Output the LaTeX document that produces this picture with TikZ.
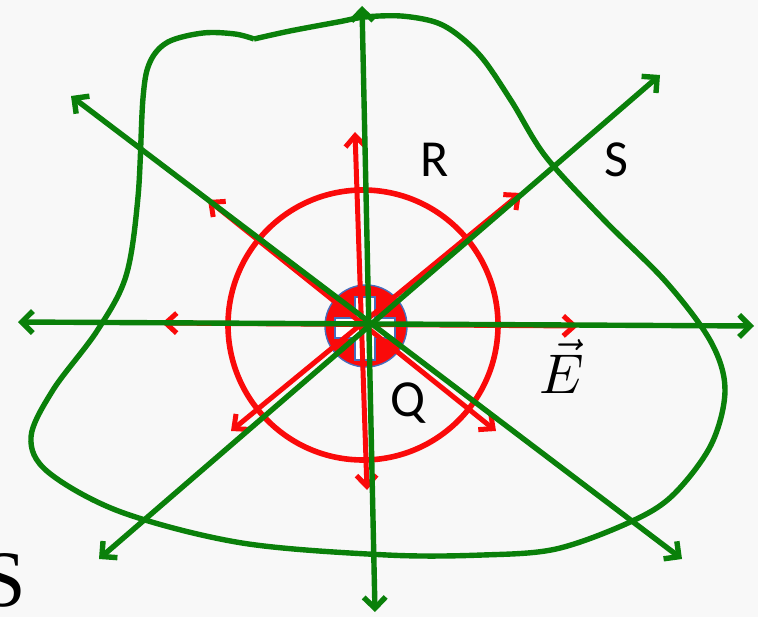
\documentclass[tikz,border=0pt]{standalone}
\usepackage{fontspec}
\newfontfamily\labelfont{Carlito}
\newfontfamily\bigserif{Liberation Serif}
\usetikzlibrary{arrows.meta}
\definecolor{bg}{RGB}{248,248,248}
\definecolor{fieldgreen}{RGB}{10,128,10}
\definecolor{fieldred}{RGB}{250,10,10}
\definecolor{chargeblue}{RGB}{70,110,190}
\tikzset{
  greenline/.style={draw=fieldgreen, line width=5.4pt, {Straight Barb[length=11pt,width=22pt]}-{Straight Barb[length=11pt,width=22pt]}},
  redline/.style={draw=fieldred, line width=5pt, {Straight Barb[length=11pt,width=20pt]}-{Straight Barb[length=11pt,width=20pt]}},
  lbl/.style={font=\labelfont\fontsize{52}{52}\selectfont, inner sep=0pt, anchor=base}
}
\begin{document}
\begin{tikzpicture}[x=1pt,y=-1pt]
\fill[bg] (0,0) rectangle (758,617);
\useasboundingbox (0,0) rectangle (758,617);

% Gaussian sphere R
\node[draw=fieldred, line width=5.6pt, circle, minimum size=270pt, inner sep=0pt] (sphere) at (363,325) {};

% charge Q
\node[draw=chargeblue, line width=1.4pt, fill=fieldred, circle, minimum size=82pt, inner sep=0pt] (charge) at (366,326) {};
\draw[chargeblue, line width=1.2pt, fill=white]
  (355,297) -- (375,297) -- (375,318) -- (395,318) -- (395,338) -- (375,338) -- (375,360)
  -- (355,360) -- (355,338) -- (335,338) -- (335,318) -- (355,318) -- cycle;

% red field arrows
\coordinate (rU) at (355,132);
\coordinate (rD) at (367,490);
\coordinate (rL) at (162,323);
\coordinate (rR) at (578,326);
\coordinate (rUL) at (208,200);
\coordinate (rDR) at (496,431);
\coordinate (rUR) at (521,193);
\coordinate (rDL) at (231,431);
\draw[redline] (rU) -- (rD);
\draw[redline] (rL) -- (rR);
\draw[redline] (rUL) -- (rDR);
\draw[redline] (rUR) -- (rDL);

% green field lines
\coordinate (gU) at (362,6);
\coordinate (gD) at (375,612);
\coordinate (gL) at (18,322);
\coordinate (gR) at (754,326);
\coordinate (gUL) at (71,96);
\coordinate (gDR) at (682,559);
\coordinate (gUR) at (660,75);
\coordinate (gDL) at (99,559);
\draw[greenline] (gU) -- (gD);
\draw[greenline] (gL) -- (gR);
\draw[greenline] (gUL) -- (gDR);
\draw[greenline] (gUR) -- (gDL);

% Gaussian surface S
\draw[fieldgreen, line width=5.4pt, line join=round] plot[smooth, tension=0.55] coordinates {
 (254,39) (290,31) (338,22) (365,17) (401,16) (435,22) (458,35) (483,59)
 (512,102) (546,157) (604,220) (667,283) (711,342) (725,390) (711,445)
 (672,496) (628,523) (556,549) (483,555) (387,555) (242,543) (121,512)
 (48,472) (31,437) (53,390) (97,331) (126,276) (138,197) (143,98)
 (150,62) (168,42) (203,33) (235,34) (254,39)};

% labels
\node[lbl] (labR) at (435,177) {R};
\node[lbl] (labS) at (616,177) {S};
\node[lbl] (labQ) at (408,417) {Q};
\node[inner sep=0pt, anchor=base] (labE) at (562,394) {\scalebox{5.6}{$\vec{E}$}};
\node[inner sep=0pt, anchor=base, font=\bigserif\fontsize{80}{80}\selectfont] (labS2) at (4,606) {S};
\end{tikzpicture}
\end{document}
